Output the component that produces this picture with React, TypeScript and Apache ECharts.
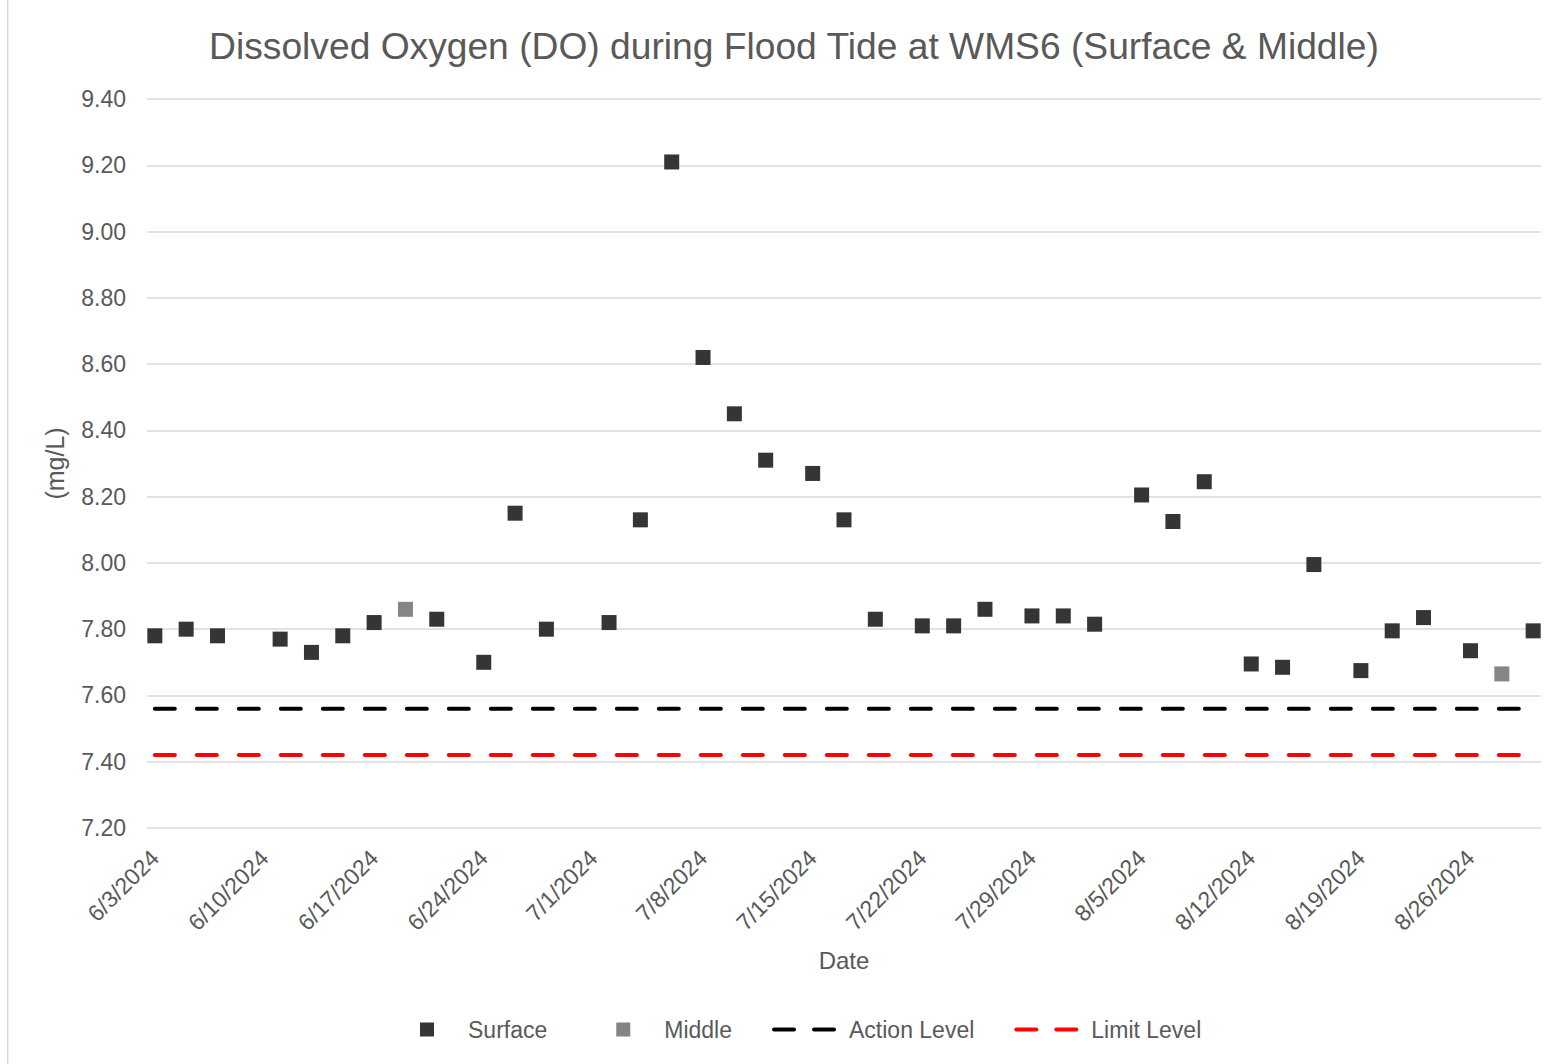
import React, { useEffect, useRef } from "react";
import * as echarts from "echarts";

// ---- Data ----
const START_DATE = "2024-06-03";
const DAY_COUNT = 89; // 6/3/2024 .. 8/30/2024

const surfaceDates = [
  "6/3/2024", "6/5/2024", "6/7/2024", "6/11/2024", "6/13/2024", "6/15/2024", "6/17/2024",
  "6/21/2024", "6/24/2024", "6/26/2024", "6/28/2024", "7/2/2024", "7/4/2024", "7/6/2024",
  "7/8/2024", "7/10/2024", "7/12/2024", "7/15/2024", "7/17/2024", "7/19/2024", "7/22/2024",
  "7/24/2024", "7/26/2024", "7/29/2024", "7/31/2024", "8/2/2024", "8/5/2024", "8/7/2024",
  "8/9/2024", "8/12/2024", "8/14/2024", "8/16/2024", "8/19/2024", "8/21/2024", "8/23/2024",
  "8/26/2024", "8/30/2024",
];
const surfaceValues = [
  7.78, 7.8, 7.78, 7.77, 7.73, 7.78, 7.82,
  7.83, 7.7, 8.15, 7.8, 7.82, 8.13, 9.21,
  8.62, 8.45, 8.31, 8.27, 8.13, 7.83, 7.81,
  7.81, 7.86, 7.84, 7.84, 7.815, 8.205, 8.125,
  8.245, 7.695, 7.685, 7.995, 7.675, 7.795, 7.835,
  7.735, 7.795,
];

const middleDates = ["6/19/2024", "8/28/2024"];
const middleValues = [7.86, 7.665];

const actionLevel = 7.56;
const limitLevel = 7.42;

const yTicks = { min: 7.2, max: 9.4, interval: 0.2 };

// ---- Build category list (one slot per day) ----
function buildDays(): string[] {
  const out: string[] = [];
  const d0 = new Date(START_DATE + "T00:00:00");
  for (let i = 0; i < DAY_COUNT; i++) {
    const d = new Date(d0.getTime());
    d.setDate(d0.getDate() + i);
    out.push(`${d.getMonth() + 1}/${d.getDate()}/${d.getFullYear()}`);
  }
  return out;
}

const FONT = "'Liberation Sans', Arial, sans-serif";
const TEXT = "#595959";

// legend icons (72x14 boxes, invisible corner points fix the box)
const ICON_SQUARE = "path://M0,0L0,0M72,14L72,14M29,0L43,0L43,14L29,14Z";
const ICON_DASH =
  "path://M0,0L0,0M72,14L72,14M2,5L22,5A2,2,0,0,1,22,9L2,9A2,2,0,0,1,2,5ZM42,5L62,5A2,2,0,0,1,62,9L42,9A2,2,0,0,1,42,5Z";

export default function App() {
  const ref = useRef<HTMLDivElement>(null);

  useEffect(() => {
    if (!ref.current) return;
    const chart = echarts.init(ref.current, undefined, { renderer: "svg" });
    const days = buildDays();

    const dashed = [20, 22];

    chart.setOption({
      animation: false,
      backgroundColor: "#ffffff",
      textStyle: { fontFamily: FONT },
      title: {
        text: "Dissolved Oxygen (DO) during Flood Tide at WMS6 (Surface & Middle)",
        left: 789,
        textAlign: "center",
        top: 22,
        textStyle: { fontSize: 37.2, fontWeight: "normal", color: TEXT, fontFamily: FONT },
      },
      graphic: [
        {
          type: "rect",
          left: 7,
          top: 0,
          shape: { width: 1.5, height: 1064 },
          style: { fill: "#d9d9d9" },
          silent: true,
        },
      ],
      grid: { left: 147, right: 26, top: 99, bottom: 236, containLabel: false },
      legend: {
        left: 391,
        top: 1018,
        padding: 0,
        itemWidth: 72,
        itemHeight: 14,
        itemGap: 40,
        textStyle: { fontSize: 23, color: TEXT, fontFamily: FONT },
        data: [
          { name: "Surface", icon: ICON_SQUARE },
          { name: "Middle", icon: ICON_SQUARE },
          { name: "Action Level", icon: ICON_DASH },
          { name: "Limit Level", icon: ICON_DASH },
        ],
      },
      xAxis: {
        type: "category",
        data: days,
        boundaryGap: true,
        name: "Date",
        nameLocation: "middle",
        nameGap: 120,
        nameTextStyle: { fontSize: 24, color: TEXT, fontFamily: FONT },
        axisLine: { show: false },
        axisTick: { show: false },
        splitLine: { show: false },
        axisLabel: {
          interval: 6,
          rotate: 45,
          margin: 26,
          fontSize: 23,
          color: TEXT,
          fontFamily: FONT,
        },
      },
      yAxis: {
        type: "value",
        min: yTicks.min,
        max: yTicks.max,
        interval: yTicks.interval,
        name: "(mg/L)",
        nameLocation: "middle",
        nameGap: 80,
        nameTextStyle: { fontSize: 25, color: TEXT, fontFamily: FONT },
        axisLine: { show: false },
        axisTick: { show: false },
        splitLine: { lineStyle: { color: "#d9d9d9", width: 1.5 } },
        axisLabel: {
          margin: 21,
          fontSize: 23,
          color: TEXT,
          fontFamily: FONT,
          formatter: (v: number) => v.toFixed(2),
        },
      },
      series: [
        {
          name: "Action Level",
          type: "line",
          data: days.map(() => actionLevel),
          symbol: "none",
          lineStyle: { color: "#000000", width: 4, type: dashed, cap: "round" },
          itemStyle: { color: "#000000" },
          z: 2,
        },
        {
          name: "Limit Level",
          type: "line",
          data: days.map(() => limitLevel),
          symbol: "none",
          lineStyle: { color: "#ff0000", width: 4, type: dashed, cap: "round" },
          itemStyle: { color: "#ff0000" },
          z: 2,
        },
        {
          name: "Surface",
          type: "scatter",
          symbol: "rect",
          symbolSize: 15,
          itemStyle: { color: "#353535", opacity: 1 },
          data: surfaceDates.map((d, i) => [d, surfaceValues[i]]),
          z: 3,
        },
        {
          name: "Middle",
          type: "scatter",
          symbol: "rect",
          symbolSize: 15,
          itemStyle: { color: "#858585", opacity: 1 },
          data: middleDates.map((d, i) => [d, middleValues[i]]),
          z: 3,
        },
      ],
    });

    return () => chart.dispose();
  }, []);

  return (
    <div
      ref={ref}
      style={{ position: "absolute", left: 0, top: 0, width: 1567, height: 1064 }}
    />
  );
}
